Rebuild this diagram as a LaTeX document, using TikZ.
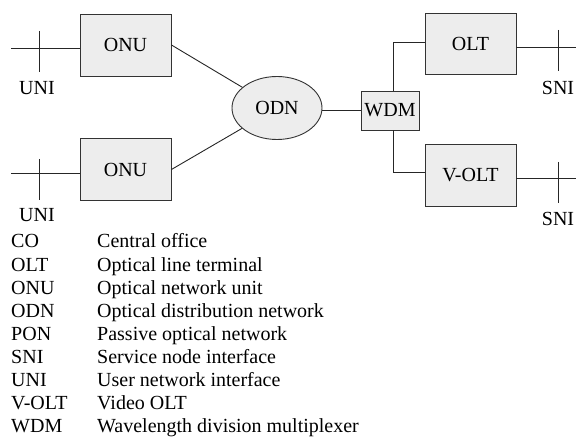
\documentclass[tikz,border=0pt]{standalone}
\usepackage{fontspec}
\setmainfont{Liberation Serif}
\usetikzlibrary{shapes.geometric}
\begin{document}
\begin{tikzpicture}[x=1pt, y=-1pt,
        box/.style={draw=black!80, fill=black!7, line width=0.9pt, inner sep=0pt, font=\fontsize{20}{24}\selectfont},
        wire/.style={draw=black!85, line width=0.9pt},
        label_node/.style={font=\fontsize{20}{24}\selectfont, inner sep=0pt},
        legend/.style={font=\fontsize{20}{24}\selectfont, inner sep=0pt, anchor=base west}
    ]
    \useasboundingbox (0,0) rectangle (576,438);

    % Blocchi
    \node[box, minimum width=91pt, minimum height=62pt] (onuA) at (125.5,45) {ONU};
    \node[box, minimum width=91pt, minimum height=62pt] (onuB) at (125.5,169.5) {ONU};
    \node[box, ellipse, minimum width=90pt, minimum height=63pt] (odn) at (277,108) {ODN};
    \node[box, minimum width=58pt, minimum height=39pt] (wdm) at (390,110.5) {WDM};
    \node[box, minimum width=91pt, minimum height=61pt] (olt) at (470.5,43.5) {OLT};
    \node[box, minimum width=91pt, minimum height=62pt] (volt) at (470.5,175) {V-OLT};

    % Interfacce UNI
    \coordinate (uniA) at (11,48);
    \coordinate (uniB) at (11,173);
    \draw[wire] (uniA) -- (uniA -| onuA.west);
    \draw[wire] (39,31) -- (39,72);
    \node[label_node] (uniAlab) at (37,88) {UNI};
    \draw[wire] (uniB) -- (uniB -| onuB.west);
    \draw[wire] (39,159) -- (39,200);
    \node[label_node] (uniBlab) at (37,215) {UNI};

    % Collegamenti ottici
    \draw[wire] (onuA.east) -- (odn);
    \draw[wire] (onuB.east) -- (odn);
    \draw[wire] (odn.east |- wdm.west) -- (wdm.west);
    \coordinate (wdmT) at ([xshift=3pt]wdm.north);
    \coordinate (wdmB) at ([xshift=3pt]wdm.south);
    \draw[wire] (wdmT) |- ([yshift=1.5pt]olt.west);
    \draw[wire] (wdmB) |- ([yshift=3pt]volt.west);

    % Interfacce SNI
    \coordinate (sniA) at (576,47);
    \coordinate (sniB) at (576,178);
    \draw[wire] (olt.east |- sniA) -- (sniA);
    \draw[wire] (558,30) -- (558,71);
    \node[label_node] (sniAlab) at (558,88) {SNI};
    \draw[wire] (volt.east |- sniB) -- (sniB);
    \draw[wire] (558,162) -- (558,203);
    \node[label_node] (sniBlab) at (558,219) {SNI};

    % Legenda
    \foreach \abbr/\desc [count=\i from 0] in {CO/Central office, OLT/Optical line terminal,
        ONU/Optical network unit, ODN/Optical distribution network,
        PON/Passive optical network, SNI/Service node interface,
        UNI/User network interface, V-OLT/Video OLT,
        WDM/Wavelength division multiplexer} {
        \node[legend] (abbr\i) at (11,248+23.1*\i) {\abbr};
        \node[legend] (desc\i) at (97,248+23.1*\i) {\desc};
    }
\end{tikzpicture}
\end{document}
